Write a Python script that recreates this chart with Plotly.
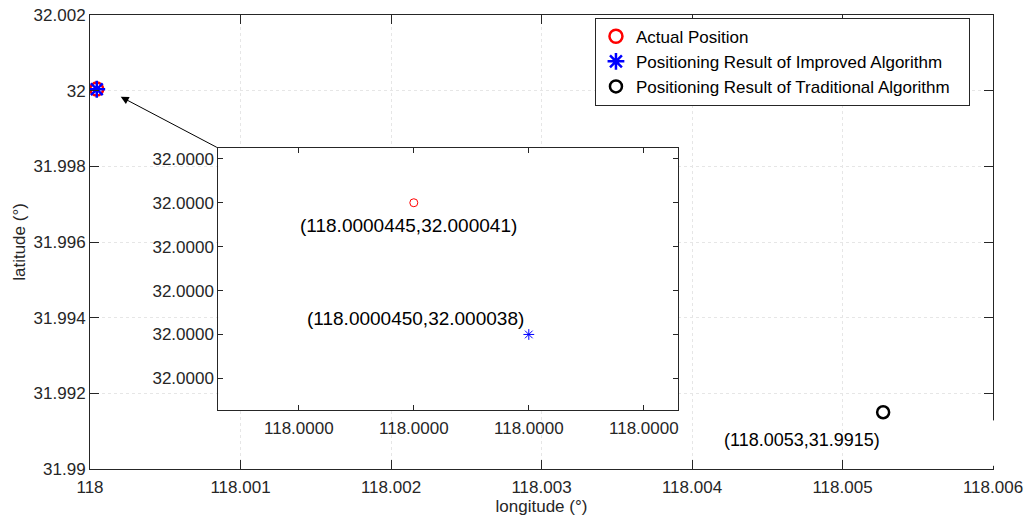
import plotly.graph_objects as go

# ---------------- data ----------------
actual_lon = [118.0000445]
actual_lat = [32.000041]
improved_lon = [118.0000450]
improved_lat = [32.000038]
traditional_lon = [118.00527]
traditional_lat = [31.9915]

actual_label = "(118.0000445,32.000041)"
improved_label = "(118.0000450,32.000038)"
traditional_label = "(118.0053,31.9915)"

series_names = ["Actual Position",
                "Positioning Result of Improved Algorithm",
                "Positioning Result of Traditional Algorithm"]

main_xticks = [118.0, 118.001, 118.002, 118.003, 118.004, 118.005, 118.006]
main_xticktext = ["118", "118.001", "118.002", "118.003", "118.004", "118.005", "118.006"]
main_yticks = [31.99, 31.992, 31.994, 31.996, 31.998, 32.0, 32.002]
main_yticktext = ["31.99", "31.992", "31.994", "31.996", "31.998", "32", "32.002"]

inset_xticks = [118.000044, 118.0000445, 118.000045, 118.0000455]
inset_xticktext = ["118.0000"] * 4
inset_yticks = [32.000037, 32.000038, 32.000039, 32.000040, 32.000041, 32.000042]
inset_yticktext = ["32.0000"] * 6

main_xrange = [118.0, 118.006]
main_yrange = [31.99, 32.002]
inset_xrange = [118.00004365, 118.00004565]
inset_yrange = [32.00003628, 32.00004224]

FONT = "Liberation Sans, Arial, sans-serif"
TXT = "#262626"
PAD = "\u00a0\u00a0\u00a0"  # right padding inside legend box

fig = go.Figure()

# main axes traces
fig.add_trace(go.Scatter(
    x=actual_lon, y=actual_lat, mode="markers", name=series_names[0] + PAD,
    marker=dict(symbol="circle-open", size=13, color="#ff0000", line=dict(width=2.5, color="#ff0000")),
    xaxis="x", yaxis="y"))
fig.add_trace(go.Scatter(
    x=improved_lon, y=improved_lat, mode="markers", name=series_names[1] + PAD,
    marker=dict(symbol="asterisk-open", size=14, color="#0000ff", line=dict(width=2.5, color="#0000ff")),
    xaxis="x", yaxis="y"))
fig.add_trace(go.Scatter(
    x=traditional_lon, y=traditional_lat, mode="markers", name=series_names[2] + PAD,
    marker=dict(symbol="circle-open", size=12, color="#000000", line=dict(width=2.5, color="#000000")),
    xaxis="x", yaxis="y"))

# inset traces
fig.add_trace(go.Scatter(
    x=actual_lon, y=actual_lat, mode="markers", showlegend=False,
    marker=dict(symbol="circle-open", size=8, color="#ff0000", line=dict(width=1, color="#ff0000")),
    xaxis="x2", yaxis="y2"))
fig.add_trace(go.Scatter(
    x=improved_lon, y=improved_lat, mode="markers", showlegend=False,
    marker=dict(symbol="asterisk-open", size=9, color="#0000ff", line=dict(width=1, color="#0000ff")),
    xaxis="x2", yaxis="y2"))

axis_common = dict(
    showline=True, linecolor=TXT, linewidth=1, mirror="ticks",
    ticks="inside", tickcolor=TXT, zeroline=False, automargin=False,
    tickfont=dict(family=FONT, size=17, color=TXT),
)

fig.update_layout(
    width=1027, height=523,
    margin=dict(l=90, r=34, t=15, b=54),
    paper_bgcolor="white", plot_bgcolor="white",
    font=dict(family=FONT, size=17, color=TXT),
    xaxis=dict(
        **axis_common, domain=[0, 1], range=main_xrange,
        tickvals=main_xticks, ticktext=main_xticktext, ticklen=9, ticklabelstandoff=3,
        showgrid=True, gridcolor="#e6e6e6", griddash="dot", gridwidth=1,
        title=dict(text="longitude (°)", font=dict(family=FONT, size=17, color=TXT), standoff=2),
    ),
    yaxis=dict(
        **axis_common, domain=[0, 1], range=main_yrange,
        tickvals=main_yticks, ticktext=main_yticktext, ticklen=9,
        showgrid=True, gridcolor="#e6e6e6", griddash="dot", gridwidth=1,
        title=dict(text="latitude (°)", font=dict(family=FONT, size=17, color=TXT), standoff=3),
    ),
    xaxis2=dict(
        **axis_common, anchor="y2", domain=[0.1421, 0.6515], range=inset_xrange,
        tickvals=inset_xticks, ticktext=inset_xticktext, ticklen=5, ticklabelstandoff=3,
        showgrid=False,
    ),
    yaxis2=dict(
        **axis_common, anchor="x2", domain=[0.130, 0.7064], range=inset_yrange,
        tickvals=inset_yticks, ticktext=inset_yticktext, ticklen=5, showgrid=False,
    ),
    legend=dict(
        x=0.5592, y=0.994, xanchor="left", yanchor="top",
        bgcolor="white", bordercolor=TXT, borderwidth=1,
        font=dict(family=FONT, size=17, color="#000000"),
        tracegroupgap=0, itemsizing="trace",
    ),
    showlegend=True,
)

# white background of the inset (covers main grid lines, below inset traces)
fig.add_shape(type="rect", xref="x2 domain", yref="y2 domain", x0=0, x1=1, y0=0, y1=1,
              fillcolor="white", line=dict(width=0), layer="below")

# small white gap on right border near bottom (as in reference)
fig.add_shape(type="rect", xref="paper", yref="paper", x0=0.996, x1=1.004, y0=0.007, y1=0.107,
              fillcolor="white", line=dict(width=0), layer="above")

# arrow from inset corner to the cluster of points
fig.add_annotation(
    x=118.000204, y=31.99984, ax=118.000853, ay=31.99848,
    xref="x", yref="y", axref="x", ayref="y",
    text="", showarrow=True, arrowhead=2, arrowsize=1.6, arrowwidth=1, arrowcolor="#000000",
)

# labels
fig.add_annotation(x=actual_lon[0], y=actual_lat[0], xref="x2", yref="y2",
                   text=actual_label, showarrow=False, xshift=-5, yshift=-23,
                   font=dict(family=FONT, size=19, color="#000000"))
fig.add_annotation(x=improved_lon[0], y=improved_lat[0], xref="x2", yref="y2",
                   text=improved_label, showarrow=False, xshift=-113, yshift=16,
                   font=dict(family=FONT, size=19, color="#000000"))
fig.add_annotation(x=traditional_lon[0], y=traditional_lat[0], xref="x", yref="y",
                   text=traditional_label, showarrow=False, xshift=-81, yshift=-28,
                   font=dict(family=FONT, size=18, color="#000000"))

fig.write_html("out.html")
